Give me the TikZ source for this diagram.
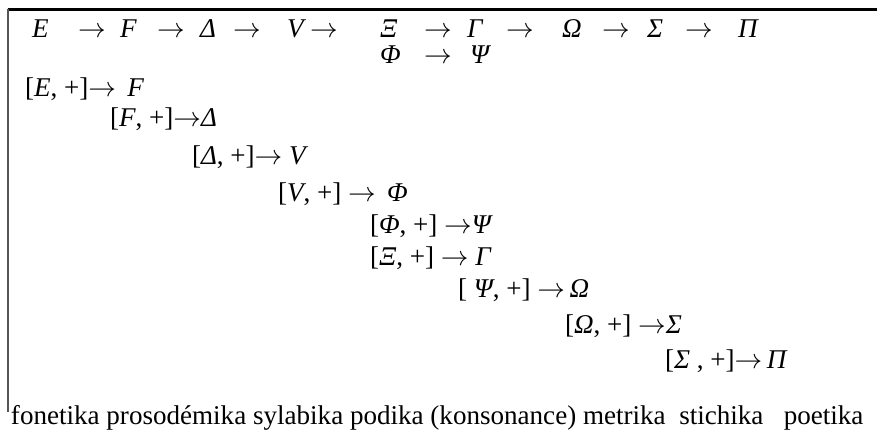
\documentclass[tikz,border=0pt]{standalone}
\usepackage{fontspec}
\setmainfont{Liberation Serif}
\usepackage{xcolor}
\usetikzlibrary{positioning}
\definecolor{ink}{HTML}{000000}
\definecolor{rule}{HTML}{555555}
\newcommand{\mv}[1]{\textit{#1}}
\newcommand{\ar}{\(\rightarrow\)}
\tikzset{
  sym/.style={anchor=base west, inner sep=0pt, outer sep=0pt, font=\fontsize{20.3}{24}\selectfont, text=ink},
  frame/.style={line cap=butt},
}
\begin{document}
\begin{tikzpicture}[x=0.75pt, y=-0.75pt]
\useasboundingbox (0,0) rectangle (877,431);
% frame
\draw[frame, ink, line width=1.7pt] (7.5,9.5) -- (877,9.5);
\draw[frame, rule, line width=1.1pt] (8,9.5) -- (8,412);
% main chain
\foreach \x/\s [count=\i] in {32/\mv{E}, 78/\ar, 120/\mv{F}, 157/\ar, 200/\mv{Δ}, 233/\ar, 287/\mv{V}, 310/\ar,
    380/\mv{Ξ}, 424/\ar, 467/\mv{Γ}, 506/\ar, 562/\mv{Ω}, 602/\ar, 647/\mv{Σ}, 685/\ar, 738/\mv{Π}}
  \node[sym] (chain\i) at (\x,38) {\s};
% side chain
\foreach \x/\s [count=\i] in {380/\mv{Φ}, 424/\ar, 470/\mv{Ψ}}
  \node[sym] (side\i) at (\x,64) {\s};
% rules
\node[sym] (ruleE) at (25,97) {[\mv{E}, +]\ar\ \,\mv{F}};
\node[sym] (ruleF) at (110,127) {[\mv{F}, +]\ar\mv{Δ}};
\node[sym] (ruleD) at (192,165) {[\mv{Δ}, +]\ar\ \mv{V}};
\node[sym] (ruleV) at (278,201) {[\mv{V}, +] \ar\ \,\mv{Φ}};
\node[sym] (rulePhi) at (370,233) {[\mv{Φ}, +] \ar\mv{Ψ}};
\node[sym] (ruleXi) at (370,265) {[\mv{Ξ}, +] \ar\ \mv{Γ}};
\node[sym] (rulePsi) at (458,297) {[ \mv{Ψ}, +] \ar\,\mv{Ω}};
\node[sym] (ruleOm) at (565,333) {[\mv{Ω}, +] \ar\mv{Σ}};
\node[sym] (ruleSi) at (665,368) {[\mv{Σ} , +]\ar\,\mv{Π}};
% levels
\node[sym] (levels) at (11,424) {fonetika prosodémika sylabika podika (konsonance) metrika\ \ stichika\ \ \ poetika};
\end{tikzpicture}
\end{document}
